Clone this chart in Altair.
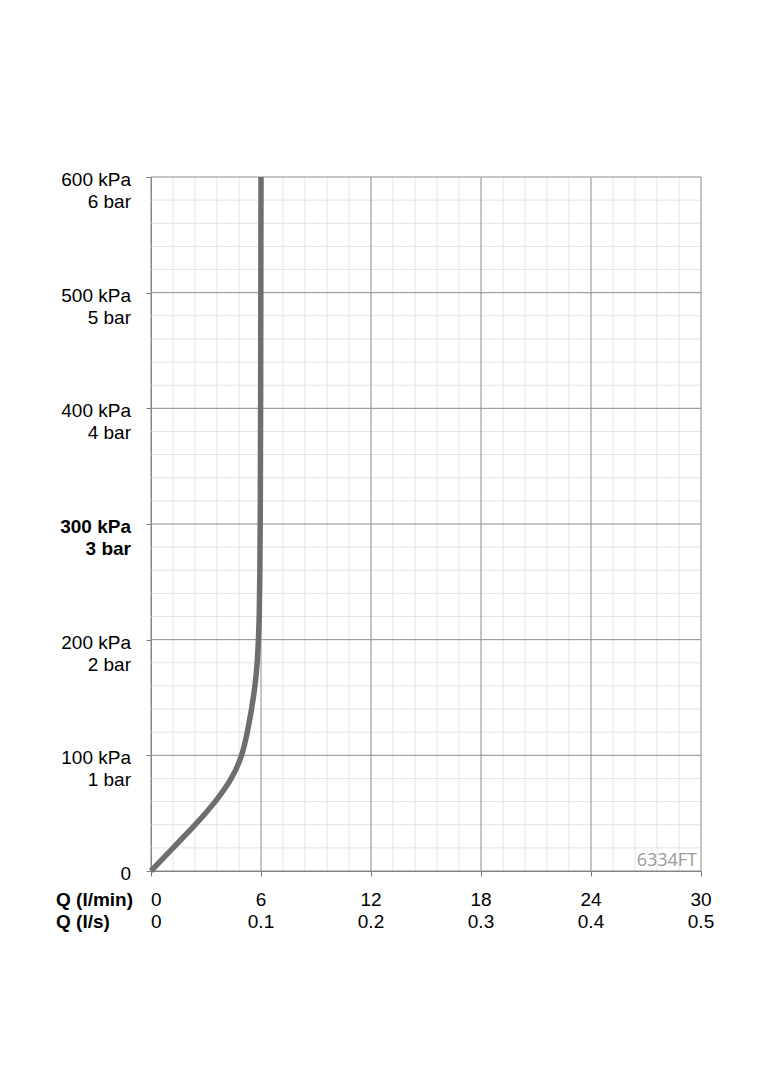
import altair as alt
import pandas as pd

# Flow curve (Q in l/min, pressure in kPa)
flow_lpm = [0, 1.2, 2.44, 3.53, 4.44, 4.98, 5.26, 5.49, 5.68, 5.80, 5.86, 5.91, 5.94, 5.96, 5.98, 5.99, 6.0]
pressure_kpa = [0, 20, 40, 60, 80, 100, 120, 140, 160, 180, 200, 220, 260, 300, 400, 500, 600]

# Grid values
q_major = [0, 6, 12, 18, 24, 30]
q_minor = [1.2, 2.4, 3.6, 4.8, 7.2, 8.4, 9.6, 10.8, 13.2, 14.4, 15.6, 16.8,
           19.2, 20.4, 21.6, 22.8, 25.2, 26.4, 27.6, 28.8]
p_major = [0, 100, 200, 300, 400, 500, 600]
p_minor = [20, 40, 60, 80, 120, 140, 160, 180, 220, 240, 260, 280,
           320, 340, 360, 380, 420, 440, 460, 480, 520, 540, 560, 580]

# Tick labels
q_lpm_labels = ["0", "6", "12", "18", "24", "30"]
q_ls_labels = ["0", "0.1", "0.2", "0.3", "0.4", "0.5"]
p_kpa_labels = ["0", "100 kPa", "200 kPa", "300 kPa", "400 kPa", "500 kPa", "600 kPa"]
p_bar_labels = ["", "1 bar", "2 bar", "3 bar", "4 bar", "5 bar", "6 bar"]
row_titles = ["Q (l/min)", "Q (l/s)"]
code_label = "6334FT"

FONT = "Liberation Sans"
FS = 19
W, H = 550, 694

xs = alt.Scale(domain=[0, 30], nice=False, zero=False)
ys = alt.Scale(domain=[0, 600], nice=False, zero=False)
xaxis = alt.Axis(values=q_major, labels=False, grid=False, ticks=True, tickSize=5,
                 tickColor="#7a7a7a", domainColor="#7a7a7a", title=None)
yaxis = alt.Axis(values=p_major, labels=False, grid=False, ticks=True, tickSize=5,
                 tickColor="#7a7a7a", domainColor="#7a7a7a", title=None)

curve_df = pd.DataFrame({"q": flow_lpm, "p": pressure_kpa})
qmin_df = pd.DataFrame({"q": q_minor})
qmaj_df = pd.DataFrame({"q": q_major, "lpm": q_lpm_labels, "ls": q_ls_labels})
pmin_df = pd.DataFrame({"p": p_minor})
pmaj_df = pd.DataFrame({"p": p_major, "kpa": p_kpa_labels, "bar": p_bar_labels})


def X():
    return alt.X("q:Q", scale=xs, axis=xaxis)


def Y():
    return alt.Y("p:Q", scale=ys, axis=yaxis)


minor_v = alt.Chart(qmin_df).mark_rule(color="#e3e3e3", strokeWidth=1).encode(x=X())
minor_h = alt.Chart(pmin_df).mark_rule(color="#e3e3e3", strokeWidth=1).encode(y=Y())
major_v = alt.Chart(qmaj_df).mark_rule(color="#8c8c8c", strokeWidth=1).encode(x=X())
major_h = alt.Chart(pmaj_df).mark_rule(color="#8c8c8c", strokeWidth=1).encode(y=Y())

curve = alt.Chart(curve_df).mark_line(
    color="#6e6e6e", strokeWidth=5.5, interpolate="basis", strokeCap="butt"
).encode(x=X(), y=Y(), order="p:Q")


def ylab(field, dy, weight, flt):
    return alt.Chart(pmaj_df).transform_filter(flt).mark_text(
        font=FONT, fontSize=FS, fontWeight=weight, align="right", baseline="middle",
        dy=dy, color="#000"
    ).encode(y=Y(), x=alt.value(-20), text=f"{field}:N")


kpa_norm = ylab("kpa", 3, "normal", alt.datum.p != 300)
kpa_bold = ylab("kpa", 3, "bold", alt.datum.p == 300)
bar_norm = ylab("bar", 25, "normal", alt.datum.p != 300)
bar_bold = ylab("bar", 25, "bold", alt.datum.p == 300)


def xlab(field, ypix, align, flt):
    return alt.Chart(qmaj_df).transform_filter(flt).mark_text(
        font=FONT, fontSize=FS, baseline="middle", align=align, color="#000"
    ).encode(x=X(), y=alt.value(ypix), text=f"{field}:N")


lpm_first = xlab("lpm", H + 29, "left", alt.datum.q == 0)
lpm_rest = xlab("lpm", H + 29, "center", alt.datum.q != 0)
ls_first = xlab("ls", H + 51, "left", alt.datum.q == 0)
ls_rest = xlab("ls", H + 51, "center", alt.datum.q != 0)

row1 = alt.Chart(pd.DataFrame({"t": [row_titles[0]]})).mark_text(
    font=FONT, fontSize=FS, fontWeight="bold", align="left", baseline="middle", color="#000"
).encode(x=alt.value(-95), y=alt.value(H + 29), text="t:N")
row2 = alt.Chart(pd.DataFrame({"t": [row_titles[1]]})).mark_text(
    font=FONT, fontSize=FS, fontWeight="bold", align="left", baseline="middle", color="#000"
).encode(x=alt.value(-95), y=alt.value(H + 51), text="t:N")

code_text = alt.Chart(pd.DataFrame({"t": [code_label]})).mark_text(
    font="Open Sans", fontSize=18, align="right", baseline="middle", color="#9a9a9a"
).encode(x=alt.value(546), y=alt.value(H - 10), text="t:N")

chart = alt.layer(
    minor_v, minor_h, major_v, major_h, curve,
    kpa_norm, kpa_bold, bar_norm, bar_bold,
    lpm_first, lpm_rest, ls_first, ls_rest, row1, row2, code_text
).properties(
    width=W, height=H,
    autosize=alt.AutoSizeParams(type="none"),
    padding={"left": 143, "top": 169, "right": 30, "bottom": 100},
    background="white",
).configure_view(stroke=None)

chart.save("out.html", embed_options={"renderer": "svg", "actions": False})
